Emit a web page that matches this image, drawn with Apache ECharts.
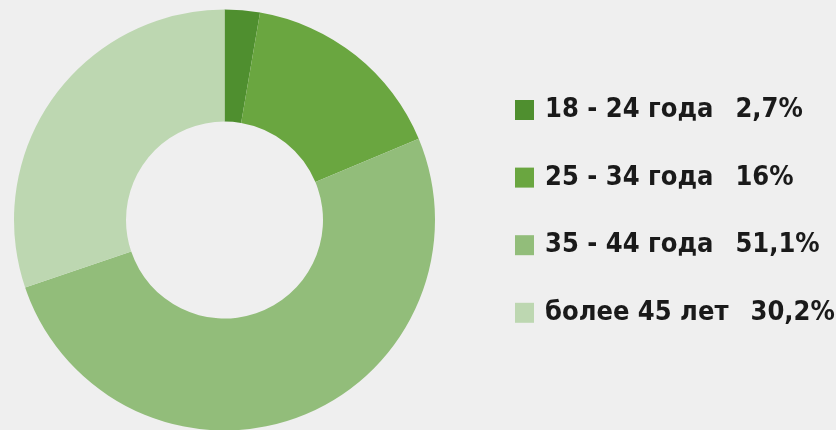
<!DOCTYPE html>
<html>
<head>
<meta charset="utf-8">
<script src="https://cdn.jsdelivr.net/npm/echarts@6/dist/echarts.min.js"></script>
<style>
  html, body { margin: 0; padding: 0; background: #efefef; }
  #chart { width: 836px; height: 430px; }
</style>
</head>
<body>
<div id="chart"></div>
<script>
// Age groups and their shares (percent)
const ageGroups = ['18 - 24 года', '25 - 34 года', '35 - 44 года', 'более 45 лет'];
const shares = [2.7, 16, 51.1, 30.2];
const shareLabels = ['2,7%', '16%', '51,1%', '30,2%'];
const sliceColors = ['#4f8f2f', '#6aa640', '#92bd7a', '#bdd7b1'];

const legendFont = '"DejaVu Sans Condensed", "Noto Sans", sans-serif';

const chart = echarts.init(document.getElementById('chart'));

chart.setOption({
  backgroundColor: '#efefef',
  animation: false,
  color: sliceColors,
  legend: {
    orient: 'vertical',
    left: 515,
    top: 95,
    padding: 0,
    itemWidth: 19,
    itemHeight: 20,
    itemGap: 37.6,
    icon: 'rect',
    selectedMode: false,
    formatter: function (name) {
      const i = ageGroups.indexOf(name);
      return '{n|' + name + '}{p|' + shareLabels[i] + '}';
    },
    textStyle: {
      fontFamily: legendFont,
      fontWeight: 'bold',
      fontSize: 27,
      lineHeight: 30,
      color: '#1a1a1a',
      rich: {
        n: {
          fontFamily: legendFont,
          fontWeight: 'bold',
          fontSize: 27,
          lineHeight: 30,
          color: '#1a1a1a',
          padding: [0, 0, 0, 6]
        },
        p: {
          fontFamily: legendFont,
          fontWeight: 'bold',
          fontSize: 27,
          lineHeight: 30,
          color: '#1a1a1a',
          padding: [0, 0, 0, 22]
        }
      }
    }
  },
  series: [{
    type: 'pie',
    center: [224.5, 220],
    radius: [98.5, 210.5],
    startAngle: 90,
    clockwise: true,
    label: { show: false },
    labelLine: { show: false },
    emphasis: { disabled: true },
    data: ageGroups.map(function (name, i) {
      return { name: name, value: shares[i] };
    })
  }]
});
</script>
</body>
</html>
